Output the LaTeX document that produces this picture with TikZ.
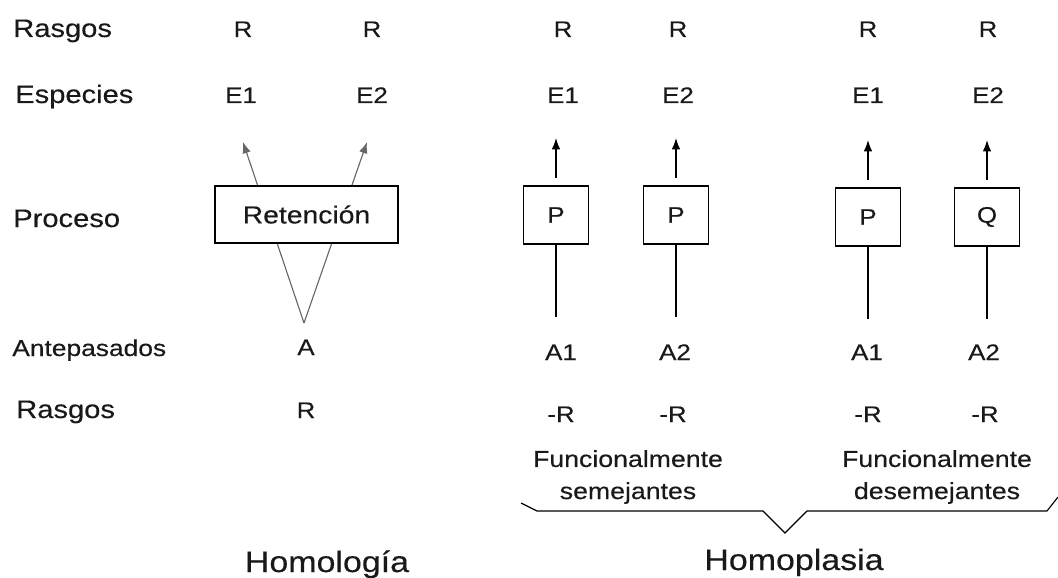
\documentclass[tikz,border=0pt]{standalone}
\usepackage{fontspec}
\setmainfont{Liberation Sans}[FakeStretch=1.15, FakeBold=0.3]
\usetikzlibrary{arrows.meta}

\begin{document}
\begin{tikzpicture}[
        x=0.025cm, y=-0.025cm,
        every node/.style={inner sep=0pt, text=black!90},
        rowlabel/.style={anchor=base west, font=\fontsize{18}{21}\selectfont},
        entry/.style={anchor=base, font=\fontsize{16}{19}\selectfont},
        procbox/.style={draw, line width=0.9pt, fill=white, minimum width=1.625cm, minimum height=1.45cm, font=\fontsize{16}{19}\selectfont},
        note/.style={align=center, font=\fontsize{16.5}{22.8}\selectfont},
        title/.style={anchor=base, font=\fontsize{21}{25}\selectfont},
        uparrow/.style={-{Latex[length=8pt,width=6pt]}, line width=0.9pt, shorten <=5pt},
        stem/.style={line width=0.9pt},
        fork/.style={-{Latex[length=8pt,width=6pt]}, line width=0.8pt, black!60}
    ]
    \useasboundingbox (0,0) rectangle (1058,578);

    \node[rowlabel] (lrasgos) at (13,37) {Rasgos};
    \node[rowlabel] (lespecies) at (15,103) {Especies};
    \node[rowlabel] (lproceso) at (13,227) {Proceso};
    \node[rowlabel, font=\fontsize{16.3}{19}\selectfont] (lantepasados) at (12,356) {Antepasados};
    \node[rowlabel] (lrasgosanc) at (16,418) {Rasgos};

    \node[entry] (hr1) at (243,37) {R};
    \node[entry] (hr2) at (372,37) {R};
    \node[entry] (he1) at (241,103) {E1};
    \node[entry] (he2) at (372,103) {E2};
    \node[entry] (ha) at (306,355) {A};
    \node[entry] (hra) at (306,418) {R};
    \coordinate (apex) at (304,323);
    \coordinate (tipl) at (243,142);
    \coordinate (tipr) at (367,142);
    \draw[fork] (apex) -- (tipl);
    \draw[fork] (apex) -- (tipr);
    \node[procbox, minimum width=4.575cm, minimum height=1.425cm, font=\fontsize{17.5}{20}\selectfont] (ret) at (306.5,214.5) {Retención};

    \node[entry] (sr1) at (563,37) {R};
    \node[entry] (sr2) at (678,37) {R};
    \node[entry] (se1) at (563,103) {E1};
    \node[entry] (se2) at (678,103) {E2};
    \node[procbox] (sp1) at (556,215) {P};
    \node[procbox] (sp2) at (676,215) {P};
    \node[entry] (sa1) at (561,360) {A1};
    \node[entry] (sa2) at (675,360) {A2};
    \node[entry] (sra1) at (561,422) {-R};
    \node[entry] (sra2) at (673,422) {-R};
    \coordinate (stip1) at (556,138);
    \coordinate (stip2) at (676,138);
    \coordinate (sbase1) at (556,317);
    \coordinate (sbase2) at (676,317);
    \draw[uparrow] (sp1) -- (stip1);
    \draw[uparrow] (sp2) -- (stip2);
    \draw[stem] (sbase1) -- (sp1);
    \draw[stem] (sbase2) -- (sp2);

    \node[entry] (dr1) at (868,37) {R};
    \node[entry] (dr2) at (988,37) {R};
    \node[entry] (de1) at (868,103) {E1};
    \node[entry] (de2) at (988,103) {E2};
    \node[procbox] (dp1) at (868,217) {P};
    \node[procbox] (dq2) at (987,217) {Q};
    \node[entry] (da1) at (867,360) {A1};
    \node[entry] (da2) at (984,360) {A2};
    \node[entry] (dra1) at (868,422) {-R};
    \node[entry] (dra2) at (985,422) {-R};
    \coordinate (dtip1) at (868,140);
    \coordinate (dtip2) at (987,140);
    \coordinate (dbase1) at (868,319);
    \coordinate (dbase2) at (987,319);
    \draw[uparrow] (dp1) -- (dtip1);
    \draw[uparrow] (dq2) -- (dtip2);
    \draw[stem] (dbase1) -- (dp1);
    \draw[stem] (dbase2) -- (dq2);

    \node[note] (nsem) at (628,477) {Funcionalmente\\semejantes};
    \node[note] (ndes) at (937,477) {Funcionalmente\\desemejantes};
    \draw[line width=0.8pt] (521,503) -- (537,511) -- (763,511) -- (785,533) -- (807,511) -- (1047,511) -- (1058,497);

    \node[title] (thomologia) at (327,572) {Homología};
    \node[title] (thomoplasia) at (794,570) {Homoplasia};
\end{tikzpicture}
\end{document}
